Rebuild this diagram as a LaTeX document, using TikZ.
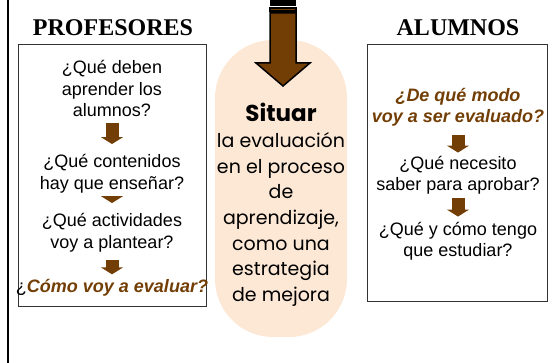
\documentclass[tikz,border=0pt]{standalone}
\usepackage{fontspec}
\setmainfont{Liberation Sans}
\newfontfamily\titulofont{Liberation Serif}
\newfontfamily\comicfont{Poppins}
\usetikzlibrary{arrows.meta}
\definecolor{marron}{RGB}{115,62,5}
\definecolor{melocoton}{RGB}{253,232,214}
\tikzset{
  pregunta/.style={align=center, inner sep=0pt, font=\fontsize{18}{21.5}\selectfont},
  titulo/.style={inner sep=0pt, font=\titulofont\bfseries\fontsize{24}{28}\selectfont},
  caja/.style={draw=black!80, line width=1pt},
  flecha/.style={draw=marron, line width=13pt, -{Triangle[width=22pt,length=7pt]}},
  clave/.style={text=marron, font=\bfseries\itshape\fontsize{18}{21.5}\selectfont}
}
\begin{document}
\begin{tikzpicture}[x=1pt,y=-1pt]
	\useasboundingbox (0,0) rectangle (560,363);
	\draw [line width=2pt](8,0) -- (8,363);
	% bloque central
	\fill [melocoton, rounded corners=58pt](215,40) rectangle (347,337);
	\fill (270,0) rectangle (296,6);
	\filldraw [fill=marron, draw=black, line width=1.2pt](270,8) rectangle (296,11);
	\filldraw [fill=marron, draw=black, line width=1.5pt](270,13) -- (270,63) -- (256,63) -- (283,86) -- (310,63) -- (296,63) -- (296,13) -- cycle;
	\node [align=center, inner sep=0pt, font=\comicfont\fontsize{19}{25.7}\selectfont] (sit) at (281,205)
		{{\bfseries\fontsize{23}{28}\selectfont Situar}\\la evaluación\\en el proceso\\de\\aprendizaje,\\como una\\estrategia\\de mejora};
	% profesores
	\node [titulo] (tprof) at (113,28){PROFESORES};
	\draw [caja](18,45) rectangle (206,307);
	\node [pregunta] (p1) at (112,88.5){¿Qué deben\\aprender los\\alumnos?};
	\node [pregunta] (p2) at (112,173.5){¿Qué contenidos\\hay que enseñar?};
	\node [pregunta] (p3) at (112,232.5){¿Qué actividades\\voy a plantear?};
	\node [pregunta] (p4) at (112,288){¿\textcolor{marron}{\bfseries\itshape Cómo voy a evaluar?}};
	\draw [flecha, shorten <=6pt, shorten >=10pt](p1) -- (p2);
	\draw [flecha, shorten <=4pt, shorten >=10pt](p2) -- (p3);
	\draw [flecha, shorten <=8pt, shorten >=5pt](p3) -- (p4);
	% alumnos
	\node [titulo] (talum) at (458,28){ALUMNOS};
	\draw [caja](367,45) rectangle (547,302);
	\node [pregunta, clave] (a1) at (458,107.5){¿De qué modo\\voy a ser evaluado?};
	\node [pregunta] (a2) at (458,175){¿Qué necesito\\saber para aprobar?};
	\node [pregunta] (a3) at (458,241){¿Qué y cómo tengo\\que estudiar?};
	\draw [flecha, shorten <=8pt, shorten >=3pt](a1) -- (a2);
	\draw [flecha, shorten <=4pt, shorten >=5pt](a2) -- (a3);
\end{tikzpicture}
\end{document}
